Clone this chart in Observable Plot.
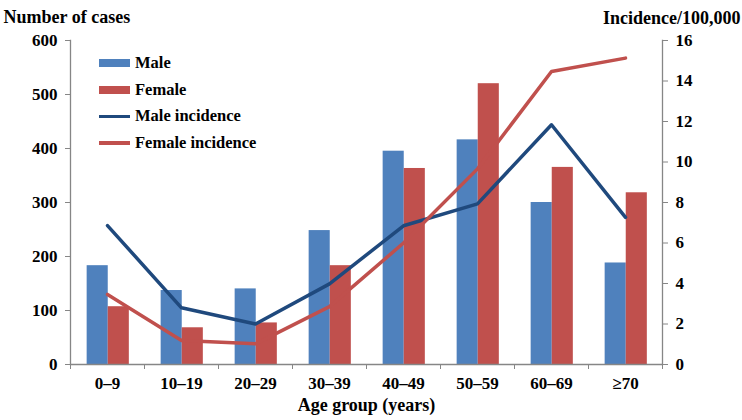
<!DOCTYPE html>
<html>
<head>
<meta charset="utf-8">
<script src="https://cdn.jsdelivr.net/npm/d3@7"></script>
<script src="https://cdn.jsdelivr.net/npm/@observablehq/plot@0.6"></script>
<style>
  html, body { margin: 0; padding: 0; background: #fff; }
  #wrap { position: relative; width: 742px; height: 420px; font-family: "Liberation Serif", "Times New Roman", serif; font-weight: bold; }
  #legend { position: absolute; left: 99px; top: 50px; font-size: 16.5px; color: #000; }
  .row { display: flex; align-items: center; height: 26.5px; }
  .sw { width: 31px; margin-right: 5px; }
</style>
</head>
<body>
<div id="wrap">
  <div id="chart"></div>
  <div id="legend"></div>
</div>
<script>
const ages = ["0–9", "10–19", "20–29", "30–39", "40–49", "50–59", "60–69", "≥70"];
const maleCases = [183, 137, 140, 248, 395, 416, 300, 188];
const femaleCases = [107, 68, 77, 183, 363, 520, 365, 318];
const maleIncidence = [6.86, 2.80, 2.00, 3.98, 6.85, 7.93, 11.84, 7.27];
const femaleIncidence = [3.46, 1.19, 1.02, 2.86, 6.00, 9.66, 14.47, 15.13];
const caseTicks = [0, 100, 200, 300, 400, 500, 600];
const incidenceTicks = [0, 2, 4, 6, 8, 10, 12, 14, 16];
const seriesNames = ["Male", "Female", "Male incidence", "Female incidence"];
const colors = { male: "#4F81BD", female: "#C0504D", maleLine: "#1F497D", femaleLine: "#C0504D" };

const k = 600 / 16; // incidence -> cases scale mapping for the right axis
const rows = ages.map((age, i) => ({
  age, male: maleCases[i], female: femaleCases[i],
  maleInc: maleIncidence[i], femaleInc: femaleIncidence[i]
}));

const W = 742, H = 420, mL = 70, mR = 80;
const band = (W - mL - mR) / ages.length;
const axisGray = "#868686";
const font = '"Liberation Serif", "Times New Roman", serif';

const chart = Plot.plot({
  width: W, height: H,
  marginLeft: mL, marginRight: mR, marginTop: 40, marginBottom: 56,
  style: { fontFamily: font, fontWeight: "bold", fontSize: "17px", color: "#000", background: "#fff" },
  x: { type: "band", domain: ages, padding: 0, label: null },
  y: { domain: [0, 600], label: null },
  marks: [
    Plot.barY(rows, { x: "age", y: "male", fill: colors.male, insetLeft: band * 0.225, insetRight: band * 0.49 }),
    Plot.barY(rows, { x: "age", y: "female", fill: colors.female, insetLeft: band * 0.51, insetRight: band * 0.205 }),
    Plot.line(rows, { x: "age", y: d => d.maleInc * k, stroke: colors.maleLine, strokeWidth: 3.5 }),
    Plot.line(rows, { x: "age", y: d => d.femaleInc * k, stroke: colors.femaleLine, strokeWidth: 3.5 }),
    Plot.ruleY([0], { stroke: axisGray, strokeWidth: 1.3 }),
    Plot.frame({ anchor: "left", stroke: axisGray, strokeWidth: 1.3 }),
    Plot.frame({ anchor: "right", stroke: axisGray, strokeWidth: 1.3 }),
    Plot.axisY(caseTicks, { anchor: "left", tickSize: 5, tickPadding: 8, stroke: axisGray, fill: "#000", label: null }),
    Plot.axisY(incidenceTicks.map(v => v * k), { anchor: "right", tickSize: 5, tickPadding: 8, stroke: axisGray, fill: "#000", tickFormat: d => String(Math.round(d / k)), label: null }),
    Plot.axisX({ tickSize: 0, tickPadding: 12, fill: "#000", label: null }),
    Plot.axisX({ tickSize: 5, text: null, dx: -band / 2, stroke: axisGray, label: null }),
    Plot.axisX([ages[ages.length - 1]], { tickSize: 5, text: null, dx: band / 2, stroke: axisGray, label: null }),
    Plot.text(["Number of cases"], { frameAnchor: "top-left", textAnchor: "start", dx: -67, dy: -30, fontSize: 18, fontWeight: "bold", fill: "#000" }),
    Plot.text(["Incidence/100,000"], { frameAnchor: "top-right", textAnchor: "end", dx: 78, dy: -29, fontSize: 18, fontWeight: "bold", fill: "#000" }),
    Plot.text(["Age group (years)"], { frameAnchor: "bottom", dy: 46, fontSize: 18, fontWeight: "bold", fill: "#000" })
  ]
});
document.getElementById("chart").appendChild(chart);

const legend = document.getElementById("legend");
const swatches = [
  { fill: colors.male, h: 8 },
  { fill: colors.female, h: 8 },
  { fill: colors.maleLine, h: 3.5 },
  { fill: colors.femaleLine, h: 3.5 }
];
seriesNames.forEach((name, i) => {
  const row = document.createElement("div");
  row.className = "row";
  const sw = document.createElement("div");
  sw.className = "sw";
  sw.style.height = swatches[i].h + "px";
  sw.style.background = swatches[i].fill;
  const label = document.createElement("span");
  label.textContent = name;
  row.appendChild(sw);
  row.appendChild(label);
  legend.appendChild(row);
});
</script>
</body>
</html>
